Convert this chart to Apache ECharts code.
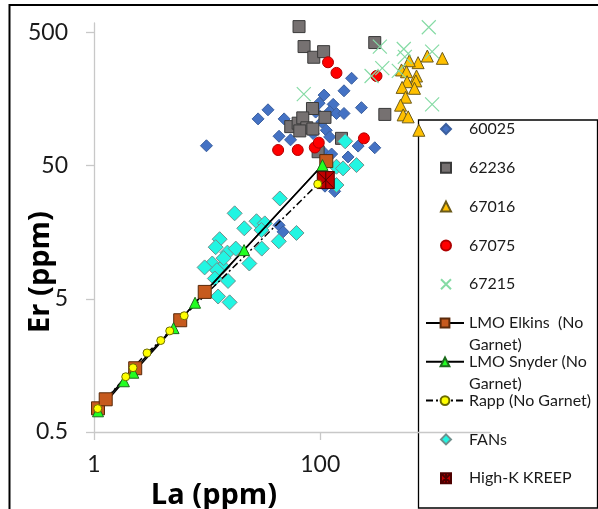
<!DOCTYPE html>
<html>
<head>
<meta charset="utf-8">
<script src="https://cdn.jsdelivr.net/npm/echarts@6/dist/echarts.min.js"></script>
<style>
  html, body { margin: 0; padding: 0; background: #fff; }
  #chart { width: 598px; height: 509px; }
</style>
</head>
<body>
<div id="chart"></div>
<script>
// La (ppm), Er (ppm) pairs
const s60025 = [[9.86, 70.4], [28.2, 112], [34.5, 131], [47.9, 112], [43.2, 83], [54.6, 78], [86.4, 87],
  [113, 92], [121, 82], [97.6, 147], [108, 169], [130, 144], [121, 127], [139, 123], [162, 123],
  [162, 182], [189, 226], [231, 136], [216, 70], [303, 68], [106, 63.5], [126, 61], [176, 58],
  [110, 35], [134, 32], [43.2, 17.8], [46.9, 15.9], [91, 126], [103, 106]];
const s62236 = [[64.9, 552], [71.9, 391], [87.6, 325], [107, 358], [303, 419], [372, 121], [85.3, 134],
  [110, 115], [54.8, 98], [63.7, 104], [70, 114], [76, 96], [86, 94], [154, 80], [95.7, 63.5], [65.9, 91]];
const s67016 = [[1199, 319], [883, 332], [732, 296], [612, 306], [522, 261], [578, 253], [709, 235],
  [699, 216], [585, 213], [529, 193], [680, 190], [567, 163], [512, 142], [540, 120], [598, 116], [743, 92]];
const s67075 = [[117, 298], [139, 248], [314, 235], [42.4, 65.4], [63.2, 65.4], [89.4, 68.3], [97, 74.3], [243, 80]];
const s67215 = [[910, 546], [336, 391], [547, 375], [974, 358], [353, 269], [284, 235], [494, 257],
  [71.5, 172], [559, 327], [974, 144]];
const elkins = [[1.085, 0.753], [1.269, 0.88], [2.313, 1.505], [5.78, 3.45], [9.52, 5.63], [113, 54]];
const snyder = [[1.085, 0.715], [1.838, 1.202], [2.226, 1.393], [5.05, 3.01], [7.82, 4.67], [21.2, 11.6], [104.6, 50.4]];
const rapp = [[1.078, 0.749], [1.907, 1.299], [2.213, 1.518], [2.942, 1.961], [3.89, 2.43], [4.67, 2.87], [6.27, 3.73], [95, 36.3]];
const fans = [[43.9, 28.3], [17.5, 21.9], [21.3, 16.9], [27.3, 19.1], [32.3, 18.4], [30.2, 16.4], [61.6, 15.6],
  [43, 13.5], [30.4, 11.9], [12.9, 14.0], [11.9, 12.2], [15.1, 11.1], [17.9, 11.9], [11.1, 9.2], [23.6, 9.2],
  [13.7, 8.7], [12.2, 8.2], [11.7, 7.1], [15.3, 6.8], [12.5, 5.2], [15.8, 4.7], [166, 76], [139, 49],
  [159, 47.6], [209, 50.4], [139, 35.7], [9.5, 8.6], [14, 10.1]];
const kreep = [[111.8, 38.9]];

const xTicks = [1, 100];
const yTicks = [0.5, 5, 50, 500];
const legendNames = ["60025", "62236", "67016", "67075", "67215",
  "LMO Elkins  (No Garnet)", "LMO Snyder (No Garnet)", "Rapp (No Garnet)", "FANs", "High-K KREEP"];

// log scales: x from 1, y from 0.5
const lx = v => Math.log10(v);
const ly = v => Math.log10(v / 0.5);
const toXY = arr => arr.map(p => [lx(p[0]), ly(p[1])]);
const xTickPos = xTicks.map(lx);
const yTickPos = yTicks.map(ly);
const pick = (pos, vals) => v => {
  const i = pos.findIndex(p => Math.abs(p - v) < 1e-6);
  return i >= 0 ? String(vals[i]) : "";
};

const FONT = "Lato";
const TITLE_FONT = "Open Sans";

function scat(name, data, symbol, size, fill, stroke, bw) {
  return {
    name, type: "scatter", data: toXY(data), symbol, symbolSize: size,
    itemStyle: { color: fill, borderColor: stroke, borderWidth: bw || 1, opacity: 1 },
    emphasis: { disabled: true }
  };
}
function model(name, data, symbol, size, fill, stroke, lineType) {
  return {
    name, type: "line", data: toXY(data), symbol, symbolSize: size, showAllSymbol: true,
    lineStyle: { color: "#000", width: 1.5, type: lineType || "solid" },
    itemStyle: { color: fill, borderColor: stroke, borderWidth: 1 },
    emphasis: { disabled: true }
  };
}

// empty first line keeps the icon level with the first text line
const legendText = {
  "LMO Elkins  (No Garnet)": "\nLMO Elkins  (No\nGarnet)",
  "LMO Snyder (No Garnet)": "\nLMO Snyder (No\nGarnet)"
};

let myChart = echarts.init(document.getElementById("chart"));

let option = {
  animation: false,
  grid: { left: 94, right: 108, top: 23, bottom: 77, containLabel: false, outerBoundsMode: "none" },
  xAxis: {
    type: "value", min: 0, max: 3.5,
    name: "La (ppm)", nameLocation: "middle", nameGap: 29,
    nameTextStyle: { fontFamily: TITLE_FONT, fontSize: 29, fontWeight: "bold", color: "#000", padding: [0, 156, 0, 0] },
    axisLine: { show: true, onZero: false, lineStyle: { color: "#c8c8c8", width: 1.3 } },
    axisTick: { show: true, customValues: xTickPos, length: 8, lineStyle: { color: "#c8c8c8", width: 1.3 } },
    axisLabel: { customValues: xTickPos, formatter: pick(xTickPos, xTicks), margin: 21,
      fontFamily: FONT, fontSize: 23, color: "#1a1a1a" },
    splitLine: { show: false }
  },
  yAxis: {
    type: "value", min: 0, max: 3.07,
    axisLine: { show: true, onZero: false, lineStyle: { color: "#c8c8c8", width: 1.3 } },
    axisTick: { show: true, customValues: yTickPos, length: 8, lineStyle: { color: "#c8c8c8", width: 1.3 } },
    axisLabel: { customValues: yTickPos, formatter: pick(yTickPos, yTicks), margin: 26,
      fontFamily: FONT, fontSize: 23, color: "#1a1a1a" },
    splitLine: { show: false }
  },
  legend: legendNames.map((n, i) => {
    const isLine = i >= 5 && i <= 7;
    const twoLine = i === 5 || i === 6;
    const cy = 129 + i * 38.8;
    return {
      data: [n], padding: 0, selectedMode: false,
      left: isLine ? 425 : 440,
      top: twoLine ? cy - 33 : cy - 11,
      itemWidth: isLine ? 38 : 10, itemHeight: isLine ? 11 : 10,
      formatter: name => legendText[name] || name,
      textStyle: {
        fontFamily: FONT, fontSize: 16, color: "#1a1a1a", lineHeight: 22,
        padding: isLine ? 0 : [0, 0, 0, 13]
      }
    };
  }),
  graphic: [
    { type: "rect", shape: { x: 9.5, y: 5, width: 620, height: 540 }, style: { fill: "none", stroke: "#000", lineWidth: 2 }, silent: true },
    { type: "rect", shape: { x: 418.5, y: 120, width: 179, height: 388 }, style: { fill: "none", stroke: "#000", lineWidth: 1.3 }, silent: true },
    { type: "text", x: 41, y: 272, rotation: Math.PI / 2, silent: true,
      style: { text: "Er (ppm)", font: "bold 29px '" + TITLE_FONT + "'", fill: "#000", align: "center", verticalAlign: "middle" } }
  ],
  series: [
    scat("60025", s60025, "diamond", 12, "#4472C4", "#3b5f9e"),
    scat("62236", s62236, "rect", 12, "#767171", "#3a3a3a"),
    scat("67016", s67016, "triangle", 12, "#FFC000", "#6b5a1a"),
    scat("67075", s67075, "circle", 11, "#FF0000", "#b00000"),
    scat("67215", s67215, "path://M0,0L10,10M10,0L0,10", 14, "#86DBA5", "#86DBA5", 1.2),
    model("LMO Elkins  (No Garnet)", elkins, "rect", 13, "#C65A1E", "#5a2a0a"),
    model("LMO Snyder (No Garnet)", snyder, "triangle", 11, "#22FF22", "#1d6b1d"),
    model("Rapp (No Garnet)", rapp, "circle", 8, "#FFFF00", "#6b6b00", [7, 3, 2, 3]),
    scat("FANs", fans, "diamond", 15, "#22F5E2", "#6f8f8c"),
    scat("High-K KREEP", kreep, "path://M0,0H10V10H0Z M0,0L10,10 M10,0L0,10 M5,0V10", 17, "#C00000", "#4d0000")
  ]
};

option && myChart.setOption(option);
</script>
</body>
</html>
